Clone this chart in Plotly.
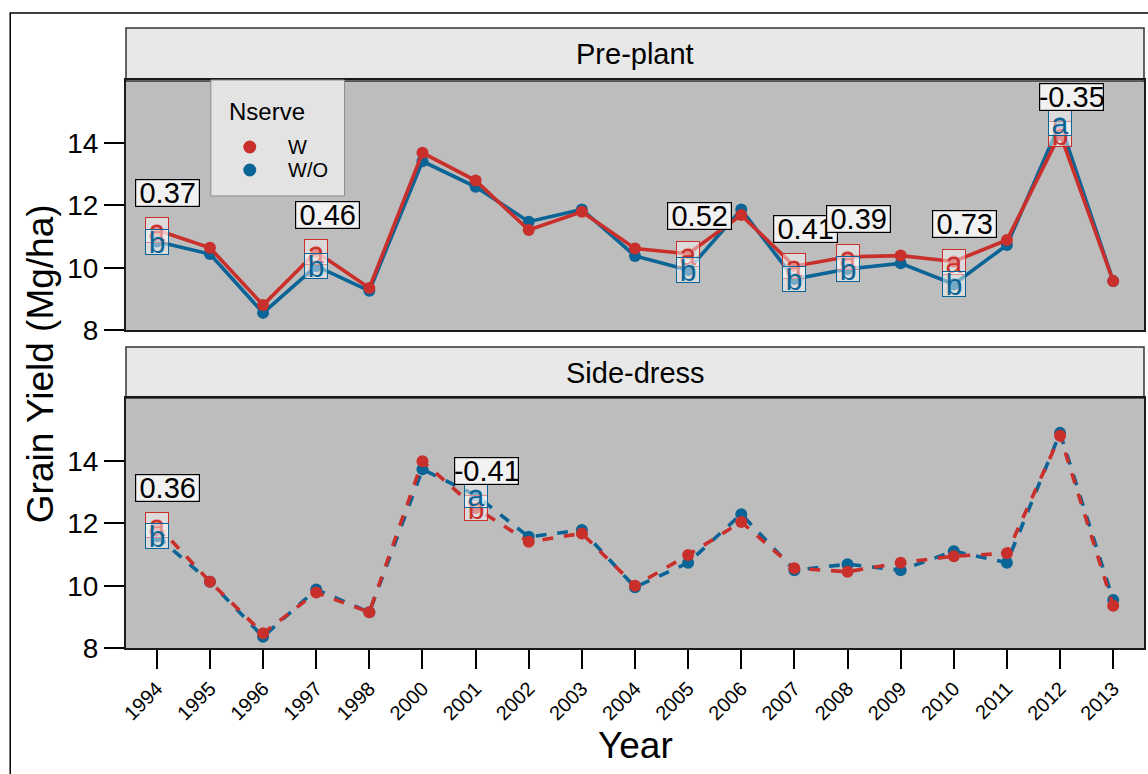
import plotly.graph_objects as go

# Grain yield by year, with and without Nserve, for two N timings
years = ["1994", "1995", "1996", "1997", "1998", "2000", "2001", "2002", "2003", "2004",
         "2005", "2006", "2007", "2008", "2009", "2010", "2011", "2012", "2013"]

pre_w  = [11.21, 10.64, 8.80, 10.51, 9.35, 13.69, 12.80, 11.21, 11.80, 10.62,
          10.45, 11.69, 10.05, 10.35, 10.39, 10.20, 10.89, 14.30, 9.57]
pre_wo = [10.84, 10.44, 8.55, 10.05, 9.26, 13.42, 12.60, 11.48, 11.87, 10.38,
          9.93, 11.87, 9.64, 9.96, 10.14, 9.47, 10.73, 14.65, 9.57]

side_w  = [11.95, 10.13, 8.47, 9.78, 9.15, 14.00, 12.50, 11.41, 11.68, 10.00,
           10.99, 12.05, 10.56, 10.45, 10.74, 10.95, 11.04, 14.82, 9.36]
side_wo = [11.59, 10.13, 8.36, 9.88, 9.15, 13.74, 12.91, 11.57, 11.79, 9.95,
           10.74, 12.30, 10.50, 10.69, 10.50, 11.11, 10.74, 14.91, 9.54]

# Years with a significant difference: (year, letter for W, letter for W/O)
pre_sig  = [("1994", "a", "b"), ("1997", "a", "b"), ("2005", "a", "b"), ("2007", "a", "b"),
            ("2008", "a", "b"), ("2010", "a", "b"), ("2012", "b", "a")]
side_sig = [("1994", "a", "b"), ("2001", "b", "a")]

panel_names = ["Pre-plant", "Side-dress"]
groups = ["W", "W/O"]
y_ticks = [8, 10, 12, 14]

RED = "#C9302C"
BLUE = "#0B6496"
FONT = "Liberation Sans, Arial, sans-serif"

W_PX, H_PX = 1148, 774
ML, MR, MT, MB = 126, 2, 28, 126
PW = W_PX - ML - MR
PH = H_PX - MT - MB


def py(px):
    """Pixel row -> paper y."""
    return (H_PX - MB - px) / PH


def pxx(px):
    """Pixel column -> paper x."""
    return (px - ML) / PW


fig = go.Figure()

panels = [
    ("x", "y", pre_w, pre_wo, "solid", pre_sig),
    ("x2", "y2", side_w, side_wo, "dash", side_sig),
]

for xa, ya, w, wo, dash, sig in panels:
    fig.add_trace(go.Scatter(x=years, y=wo, xaxis=xa, yaxis=ya, mode="lines+markers",
                             line=dict(color=BLUE, width=3.6, dash=dash),
                             marker=dict(color=BLUE, size=12), showlegend=False))
    fig.add_trace(go.Scatter(x=years, y=w, xaxis=xa, yaxis=ya, mode="lines+markers",
                             line=dict(color=RED, width=3.6, dash=dash),
                             marker=dict(color=RED, size=12), showlegend=False))

    idx = {yr: k for k, yr in enumerate(years)}
    # letter labels, W first so W/O sits on top
    for yr, lw, lwo in sig:
        k = idx[yr]
        for val, letter, col in ((w[k], lw, RED), (wo[k], lwo, BLUE)):
            fig.add_annotation(x=k, y=val, xref=xa, yref=ya, text=letter, showarrow=False,
                               xanchor="center", yanchor="middle",
                               font=dict(family=FONT, size=30, color=col),
                               bgcolor="rgba(255,255,255,0.45)", bordercolor=col,
                               borderwidth=1, borderpad=0, width=22, height=24)
    # difference labels (W minus W/O)
    for yr, _, _ in sig:
        k = idx[yr]
        diff = w[k] - wo[k]
        fig.add_annotation(x=k, y=w[k] + 1.2, xref=xa, yref=ya, text=f"{diff:.2f}",
                           showarrow=False, xshift=11, xanchor="center", yanchor="middle",
                           font=dict(family=FONT, size=29, color="black"),
                           bgcolor="#F2F2F2", bordercolor="black", borderwidth=1.2,
                           borderpad=0, width=63, height=26)

top_dom = [py(330), py(80)]
bot_dom = [0, py(398)]
xrange = [-0.58, 18.58]
yrange = [8, 16.03]

axis_common = dict(showgrid=False, zeroline=False, showline=True, mirror=True,
                   linecolor="#1a1a1a", linewidth=2)
yaxis_common = dict(range=yrange, tickvals=y_ticks, ticks="outside", ticklen=20,
                    tickwidth=2, tickcolor="black", tickfont=dict(size=28),
                    **axis_common)

fig.update_layout(
    width=W_PX, height=H_PX,
    margin=dict(l=ML, r=MR, t=MT, b=MB),
    paper_bgcolor="white", plot_bgcolor="#BDBDBD",
    font=dict(family=FONT, color="black"),
    showlegend=False,
    xaxis=dict(domain=[0, 1], anchor="y", type="category", categoryorder="array",
               categoryarray=years, range=xrange, showticklabels=False, ticks="",
               **axis_common),
    yaxis=dict(domain=top_dom, anchor="x", **yaxis_common),
    xaxis2=dict(domain=[0, 1], anchor="y2", type="category", categoryorder="array",
                categoryarray=years, range=xrange, tickangle=-45,
                ticks="outside", ticklen=19, tickwidth=2, tickcolor="black",
                tickfont=dict(size=20), **axis_common),
    yaxis2=dict(domain=bot_dom, anchor="x2", **yaxis_common),
)

shapes = []
# facet strips
strip_rows = [(81, 28), (398, 347)]
for (b, t) in strip_rows:
    shapes.append(dict(type="rect", xref="paper", yref="paper", x0=0, x1=1, y0=py(b), y1=py(t),
                       fillcolor="#E8E8E8", line=dict(color="#333333", width=1.5), layer="below"))
# outer frame
shapes.append(dict(type="rect", xref="paper", yref="paper", x0=pxx(10), x1=1.2,
                   y0=-0.5, y1=py(13), line=dict(color="black", width=1.5),
                   fillcolor="rgba(0,0,0,0)"))
# legend box with keys
shapes.append(dict(type="rect", xref="paper", yref="paper", x0=pxx(211), x1=pxx(345),
                   y0=py(196), y1=py(80), fillcolor="#E3E3E3",
                   line=dict(color="#8a8a8a", width=1)))
for col, cy in ((RED, 147), (BLUE, 170)):
    shapes.append(dict(type="circle", xref="paper", yref="paper",
                       x0=pxx(250 - 6.5), x1=pxx(250 + 6.5), y0=py(cy + 6.5), y1=py(cy - 6.5),
                       fillcolor=col, line=dict(width=0)))
fig.update_layout(shapes=shapes)

for name, (b, t) in zip(panel_names, strip_rows):
    fig.add_annotation(x=0.5, y=(py(b) + py(t)) / 2, xref="paper", yref="paper",
                       xanchor="center", yanchor="middle",
                       text=name, showarrow=False, font=dict(size=29))

fig.add_annotation(x=pxx(227), y=py(111), xref="paper", yref="paper", xanchor="left",
                   yanchor="middle", text="Nserve", showarrow=False, font=dict(size=24))
for g, cy in zip(groups, (147, 170)):
    fig.add_annotation(x=pxx(286), y=py(cy), xref="paper", yref="paper", xanchor="left",
                       yanchor="middle", text=g, showarrow=False, font=dict(size=20))

fig.add_annotation(x=pxx(40), y=py(364), xref="paper", yref="paper",
                   xanchor="center", yanchor="middle",
                   text="Grain Yield (Mg/ha)", textangle=-90, showarrow=False,
                   font=dict(size=37))
fig.add_annotation(x=0.5, y=py(745), xref="paper", yref="paper", text="Year",
                   xanchor="center", yanchor="middle",
                   showarrow=False, font=dict(size=37))

fig.write_html("out.html")
